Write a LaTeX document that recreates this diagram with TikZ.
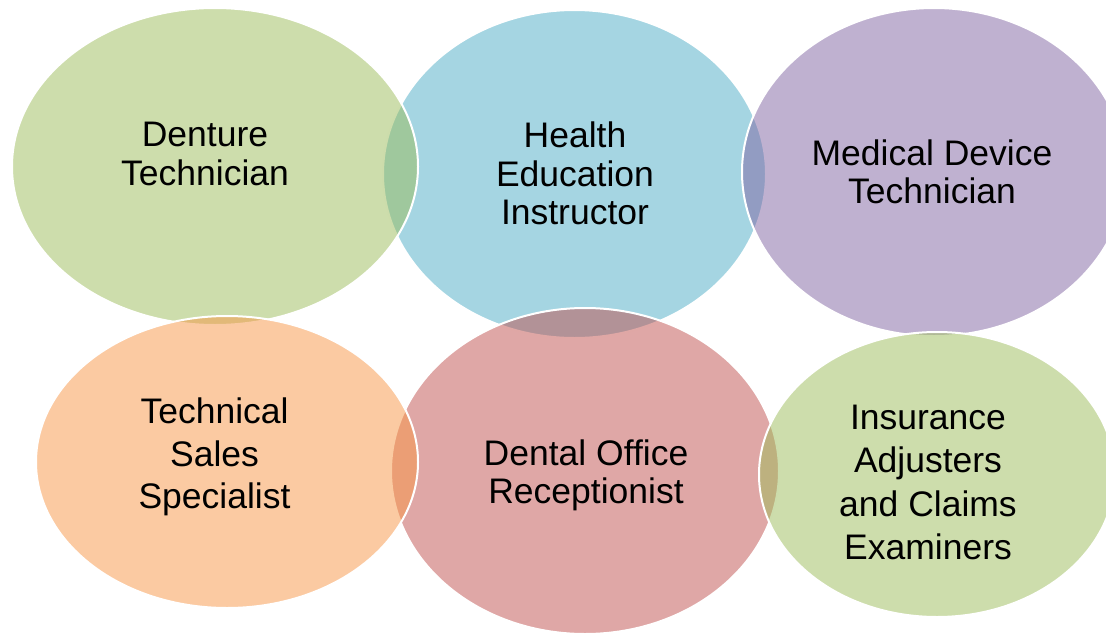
\documentclass[tikz,border=0pt]{standalone}
\usepackage{fontspec}
\setmainfont{Liberation Sans}
\usetikzlibrary{shapes.geometric}
\definecolor{cgreen}{HTML}{9BBB59}
\definecolor{cblue}{HTML}{4BACC6}
\definecolor{cpurple}{HTML}{8064A2}
\definecolor{corange}{HTML}{F79646}
\definecolor{cred}{HTML}{C0504D}
\tikzset{
  ell/.style={ellipse, draw=white, line width=2pt, fill opacity=0.5, draw opacity=1, inner sep=0pt},
  lbl/.style={anchor=north, inner sep=0pt, align=center, text=black},
}
\begin{document}
\begin{tikzpicture}[x=1pt,y=-1pt]
\useasboundingbox (0,0) rectangle (1106,635);
\clip (0,0) rectangle (1106,635);
\node[ell, fill=cblue,   minimum width=383pt, minimum height=328pt] (e2) at (574.5,174) {};
\node[ell, fill=cgreen,  minimum width=406pt, minimum height=317pt] (e1) at (215,166.5) {};
\node[ell, fill=cpurple, minimum width=384pt, minimum height=328pt] (e3) at (934,172) {};
\node[ell, fill=cred,    minimum width=388pt, minimum height=326pt] (e5) at (585,471) {};
\node[ell, fill=corange, minimum width=382pt, minimum height=292pt] (e4) at (227,462) {};
\node[ell, fill=cgreen,  minimum width=356pt, minimum height=285pt] (e6) at (937,474.5) {};
\node[lbl, font=\fontsize{35.5}{39}\selectfont] (t1) at (205,122) {Denture\\Technician};
\node[lbl, font=\fontsize{35.5}{38.5}\selectfont] (t2) at (575,122) {Health\\Education\\Instructor};
\node[lbl, font=\fontsize{35.5}{38}\selectfont] (t3) at (932,140) {Medical Device\\Technician};
\node[lbl, font=\fontsize{35.5}{42.5}\selectfont] (t4) at (214.5,398) {Technical\\Sales\\Specialist};
\node[lbl, font=\fontsize{35.5}{38}\selectfont] (t5) at (586,440) {Dental Office\\Receptionist};
\node[lbl, font=\fontsize{35.5}{43.3}\selectfont] (t6) at (928,405) {Insurance\\Adjusters\\and Claims\\Examiners};
\end{tikzpicture}
\end{document}
